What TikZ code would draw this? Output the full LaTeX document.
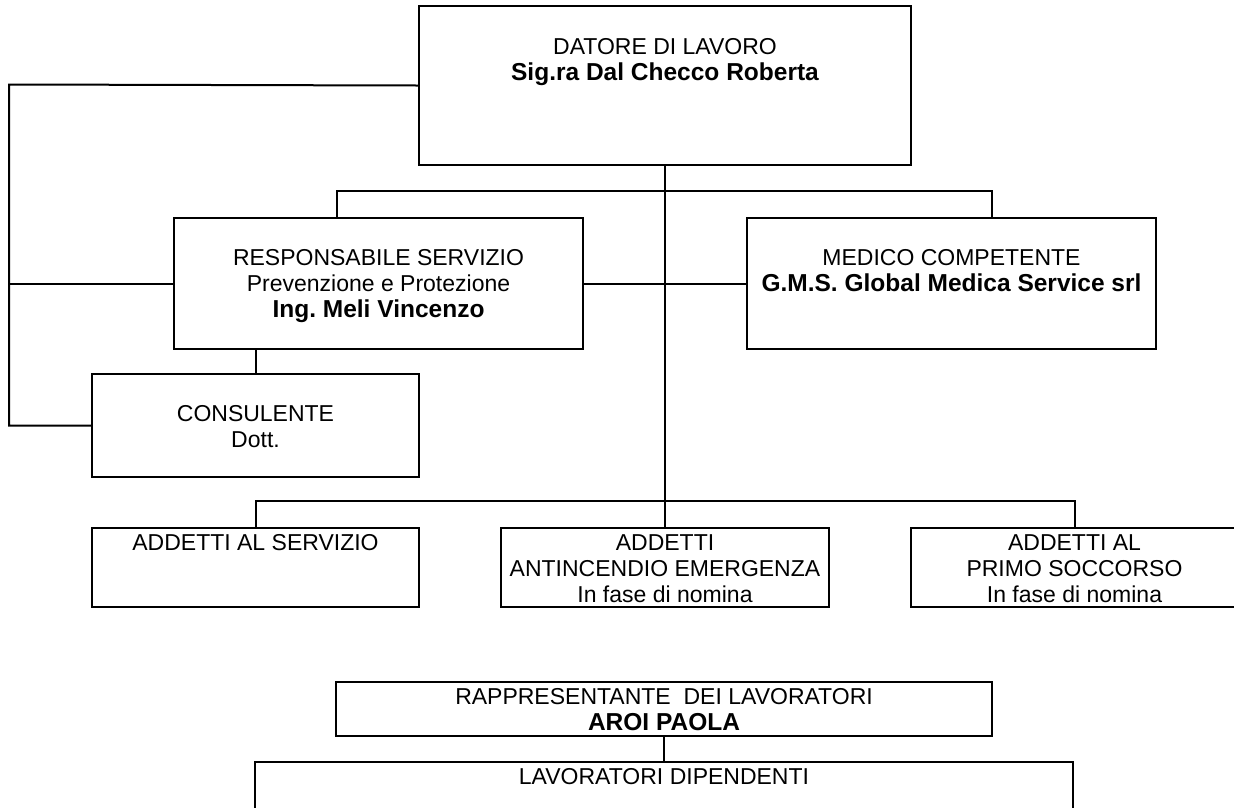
\documentclass[tikz,border=0pt]{standalone}
\usepackage{fontspec}
\setmainfont{Liberation Sans}
\usetikzlibrary{positioning}
\frenchspacing

\tikzset{
  orgbox/.style={draw, line width=2pt, inner sep=0pt, anchor=north west},
  boxtext/.style={align=center, inner sep=0pt, font=\fontsize{23}{26}\selectfont},
  link/.style={line width=2pt}
}
\newcommand{\nm}[1]{{\fontsize{24.5}{26}\selectfont\bfseries #1}}

\begin{document}
\begin{tikzpicture}[x=1pt, y=-1pt]
  \useasboundingbox (0,0) rectangle (1234,807);
  \clip (0,0) rectangle (1234,807);
  % boxes
  \node (datore) [orgbox, minimum width=492pt, minimum height=159pt] at (418,5) {};
  \node (resp) [orgbox, minimum width=409pt, minimum height=131pt] at (173,217) {};
  \node (medico) [orgbox, minimum width=409pt, minimum height=131pt] at (746,217) {};
  \node (consul) [orgbox, minimum width=327pt, minimum height=103pt] at (91,373) {};
  \node (servizio) [orgbox, minimum width=327pt, minimum height=79pt] at (91,527) {};
  \node (antinc) [orgbox, minimum width=328pt, minimum height=79pt] at (500,527) {};
  \node (soccorso) [orgbox, minimum width=327pt, minimum height=79pt] at (910,527) {};
  \node (rappr) [orgbox, minimum width=656pt, minimum height=54pt] at (335,681) {};
  \node (lavor) [orgbox, minimum width=818pt, minimum height=80pt] at (254,761) {};
  % texts
  \node (datoretxt) [boxtext, below=33pt of datore.north] {DATORE DI LAVORO\\\nm{Sig.ra Dal Checco Roberta}};
  \node (resptxt) [boxtext, below=32pt of resp.north] {RESPONSABILE SERVIZIO\\Prevenzione e Protezione\\\nm{Ing. Meli Vincenzo}};
  \node (medicotxt) [boxtext, below=32pt of medico.north] {MEDICO COMPETENTE\\\nm{G.M.S. Global Medica Service srl}};
  \node (consultxt) [boxtext, below=32pt of consul.north] {CONSULENTE\\Dott.};
  \node (serviziotxt) [boxtext, below=7pt of servizio.north] {ADDETTI AL SERVIZIO};
  \node (antinctxt) [boxtext, below=7pt of antinc.north] {ADDETTI\\ANTINCENDIO EMERGENZA\\In fase di nomina};
  \node (soccorsotxt) [boxtext, below=7pt of soccorso.north] {ADDETTI AL\\PRIMO SOCCORSO\\In fase di nomina};
  \node (rapprtxt) [boxtext, below=7pt of rappr.north] {RAPPRESENTANTE\ \ DEI LAVORATORI\\\nm{AROI PAOLA}};
  \node (lavortxt) [boxtext, below=7pt of lavor.north] {LAVORATORI DIPENDENTI};
  % connectors
  \coordinate (lft) at (9,84.5);
  \draw [link] (datore.west) -- (lft) |- (consul.west);
  \draw [link] (resp.west) -- (resp.west -| lft);
  \draw [link] (datore.south) -- (antinc.north);
  \draw [link] ([xshift=-42pt]resp.north) -- ++(0,26pt) -| ([xshift=40pt]medico.north);
  \draw [link] (resp.east) -- (medico.west);
  \draw [link] (consul.north) -- (consul.north |- resp.south);
  \draw [link] (servizio.north) -- ++(0,26pt) -| (soccorso.north);
  \draw [link] (rappr.south) -- (lavor.north);
\end{tikzpicture}
\end{document}
